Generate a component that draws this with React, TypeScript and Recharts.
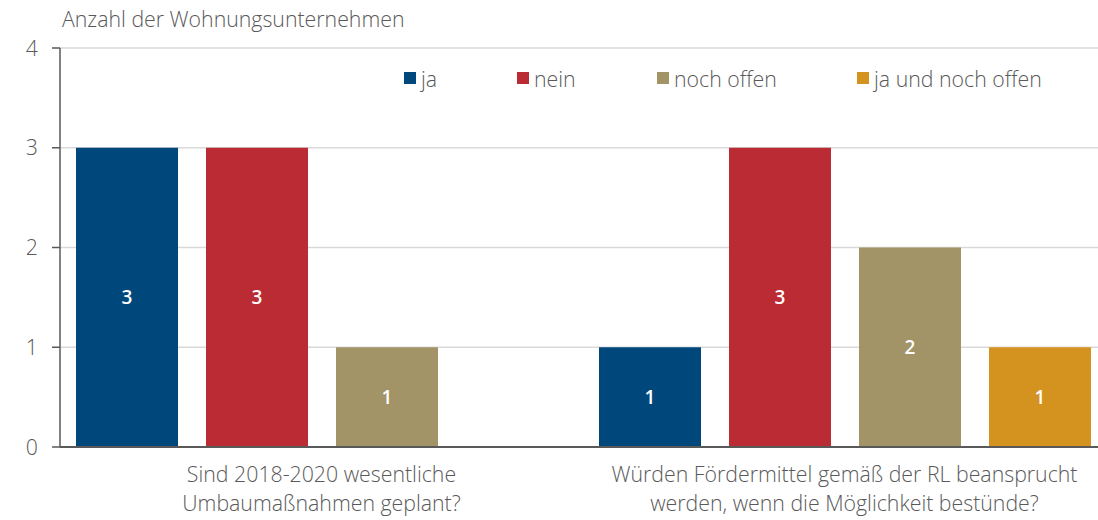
import React from "react";
import { BarChart, Bar, XAxis, YAxis, CartesianGrid, LabelList } from "recharts";

const categories: string[][] = [
  ["Sind 2018-2020 wesentliche", "Umbaumaßnahmen geplant?"],
  ["Würden Fördermittel gemäß der RL beansprucht", "werden, wenn die Möglichkeit bestünde?"],
];
const ja = [3, 1];
const nein = [3, 3];
const nochOffen = [1, 2];
const jaUndNochOffen = [0, 1];
const seriesNames = ["ja", "nein", "noch offen", "ja und noch offen"];
const seriesKeys = ["ja", "nein", "nochOffen", "jaUndNochOffen"];
const yTicks = [0, 1, 2, 3, 4];
const boundaryTicks = [0, 1, 2];
const axisTitle = "Anzahl der Wohnungsunternehmen";

const colors = ["#00477c", "#bb2b33", "#a29466", "#d4931f"];
const legendLeft = [404, 517, 657, 857];
const textColor = "#595959";
const font = "'Open Sans', sans-serif";
const fs = 21.3;

const data = categories.map((c, i) => ({
  cat: i,
  ja: ja[i],
  nein: nein[i],
  nochOffen: nochOffen[i],
  jaUndNochOffen: jaUndNochOffen[i],
}));

const CatTick = (props: any) => {
  const { x, y, payload } = props;
  const lines = categories[payload.value] || [];
  return (
    <text x={x} y={y} textAnchor="middle" fill={textColor} fontSize={fs} fontWeight={300} fontFamily={font}>
      {lines.map((l, i) => (
        <tspan key={i} x={x} dy={i === 0 ? 27 : 29}>
          {l}
        </tspan>
      ))}
    </text>
  );
};

const EmptyTick = () => <g />;

export default function App() {
  return (
    <div style={{ position: "fixed", left: 0, top: 0, width: 1098, height: 520, overflow: "hidden", background: "#fff", fontFamily: font }}>
      <div
        style={{ position: "absolute", left: 62, top: 8, fontSize: fs, lineHeight: `${fs}px`, fontWeight: 300, color: textColor, whiteSpace: "nowrap" }}
      >
        {axisTitle}
      </div>
      {seriesNames.map((n, i) => (
        <div
          key={n}
          style={{ position: "absolute", left: legendLeft[i], top: 65, height: 26, display: "flex", alignItems: "center", fontSize: fs, fontWeight: 300, color: textColor, whiteSpace: "nowrap" }}
        >
          <span style={{ display: "inline-block", width: 12, height: 12, background: colors[i], marginRight: 5 }} />
          <span>{n}</span>
        </div>
      ))}
      <BarChart
        width={1120}
        height={520}
        data={data}
        margin={{ top: 48, right: 14, bottom: 0, left: 0 }}
        barCategoryGap={16}
        barGap={28}
      >
        <CartesianGrid vertical={false} stroke="#d9d9d9" strokeWidth={1.5} />
        <YAxis
          domain={[0, 4]}
          ticks={yTicks}
          width={60}
          tickSize={8}
          tickMargin={14}
          axisLine={{ stroke: textColor, strokeWidth: 1.5 }}
          tickLine={{ stroke: textColor, strokeWidth: 1.5 }}
          tick={{ fill: textColor, fontSize: fs, fontWeight: 300, fontFamily: font }}
          interval={0}
        />
        <XAxis
          dataKey="cat"
          height={73}
          tickLine={false}
          axisLine={{ stroke: textColor, strokeWidth: 2 }}
          tick={<CatTick />}
          interval={0}
        />
        <XAxis
          xAxisId="bounds"
          type="number"
          domain={[0, 2]}
          ticks={boundaryTicks}
          height={0}
          axisLine={false}
          tickSize={8}
          tickLine={{ stroke: textColor, strokeWidth: 1 }}
          tick={<EmptyTick />}
          interval={0}
        />
        {seriesKeys.map((k, i) => (
          <Bar key={k} dataKey={k} name={seriesNames[i]} fill={colors[i]} isAnimationActive={false}>
            <LabelList
              dataKey={k}
              position="center"
              fill="#fff"
              fontSize={19}
              fontWeight={600}
              fontFamily={font}
              formatter={(v: any) => (v === 0 ? "" : v)}
            />
          </Bar>
        ))}
      </BarChart>
    </div>
  );
}
